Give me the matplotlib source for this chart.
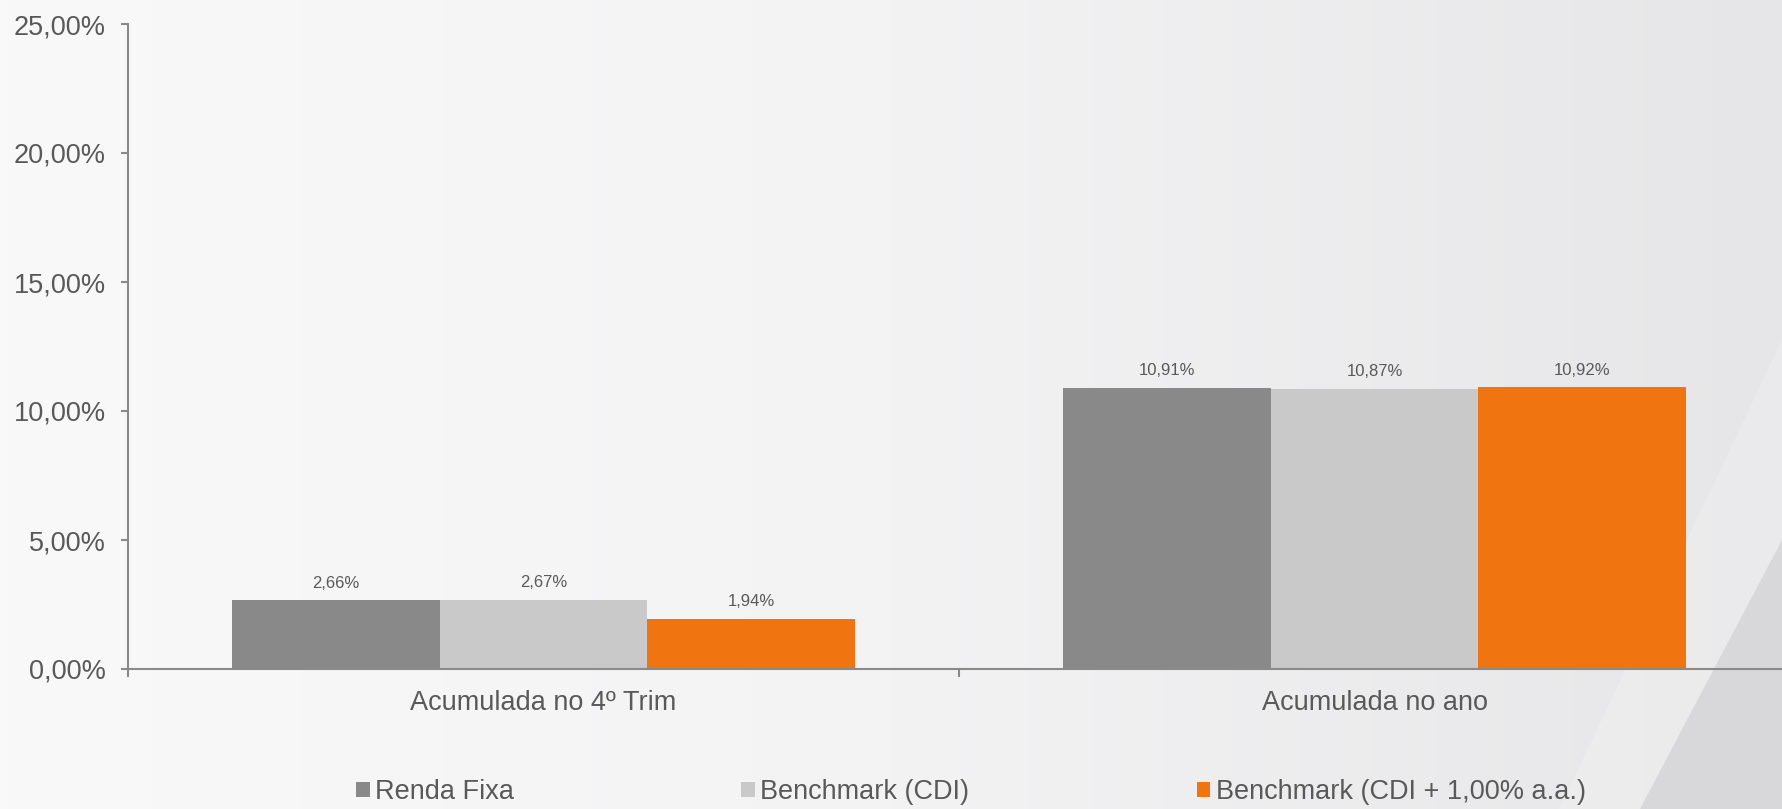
import numpy as np
import matplotlib
matplotlib.use("Agg")
import matplotlib.pyplot as plt
from matplotlib.patches import Polygon

# Dados
categorias = ["Acumulada no 4º Trim", "Acumulada no ano"]
series = ["Renda Fixa", "Benchmark (CDI)", "Benchmark (CDI + 1,00% a.a.)"]
renda_fixa = [2.66, 10.91]
bench_cdi = [2.67, 10.87]
bench_cdi_1 = [1.94, 10.92]
cores = ["#898989", "#c9c9c9", "#f07511"]

plt.rcParams["font.family"] = ["Liberation Sans", "DejaVu Sans"]
texto = "#595959"
eixo = "#8a8a8a"

fig = plt.figure(figsize=(17.82, 8.09), dpi=100)

# Fundo em degradê
bg = fig.add_axes([0, 0, 1, 1], zorder=-10)
grad = np.linspace(0, 1, 256).reshape(1, -1)
cmap = matplotlib.colors.LinearSegmentedColormap.from_list(
    "fundo", ["#f9f9fa", "#f3f3f4", "#e6e6e8"])
bg.imshow(grad, aspect="auto", cmap=cmap, extent=[0, 1, 0, 1])
bg.add_patch(Polygon([(1.0, 0.58), (0.875, 0.0), (1.0, 0.0)],
                     closed=True, color="white", alpha=0.18, lw=0))
bg.add_patch(Polygon([(1.0, 1 - 540 / 809), (1640 / 1782, 0.0), (1.0, 0.0)],
                     closed=True, color="#d8d8da", lw=0))
bg.set_xlim(0, 1)
bg.set_ylim(0, 1)
bg.axis("off")

ax = fig.add_axes([128 / 1782, 1 - 669 / 809, 1662 / 1782, (669 - 24) / 809])
ax.set_facecolor("none")

x = np.arange(len(categorias))
w = 0.25
for i, (nome, vals) in enumerate(zip(series, [renda_fixa, bench_cdi, bench_cdi_1])):
    barras = ax.bar(x + (i - 1) * w, vals, w, color=cores[i], label=nome, zorder=2)
    for b, v in zip(barras, vals):
        ax.annotate(f"{v:.2f}%".replace(".", ","),
                    (b.get_x() + b.get_width() / 2, b.get_height()),
                    xytext=(0, 7), textcoords="offset points",
                    ha="center", va="bottom", fontsize=12, color=texto)

ax.set_xlim(-0.5, 1.5)
ax.set_ylim(0, 25)
ax.set_yticks(np.arange(0, 26, 5))
ax.set_yticklabels([f"{v:.2f}%".replace(".", ",") for v in np.arange(0, 26, 5)])
ax.set_xticks(x)
ax.set_xticklabels(categorias)
ax.set_xticks([-0.5, 0.5, 1.5], minor=True)

ax.tick_params(axis="y", length=5, width=1.5, color=eixo, pad=11,
               labelsize=19.5, labelcolor=texto)
ax.tick_params(axis="x", which="major", length=0, pad=15,
               labelsize=19.5, labelcolor=texto)
ax.tick_params(axis="x", which="minor", length=6, width=1.5, color=eixo)

for lado in ["top", "right"]:
    ax.spines[lado].set_visible(False)
for lado in ["left", "bottom"]:
    ax.spines[lado].set_color(eixo)
    ax.spines[lado].set_linewidth(1.5)

fig.legend(loc="center left", bbox_to_anchor=(356 / 1782, 1 - 792 / 809),
           ncol=3, frameon=False, fontsize=19.5, labelcolor=texto,
           handlelength=0.5, handleheight=0.5, handletextpad=0.2,
           columnspacing=8.4, borderaxespad=0, borderpad=0)

fig.savefig("out.png", dpi=100)
